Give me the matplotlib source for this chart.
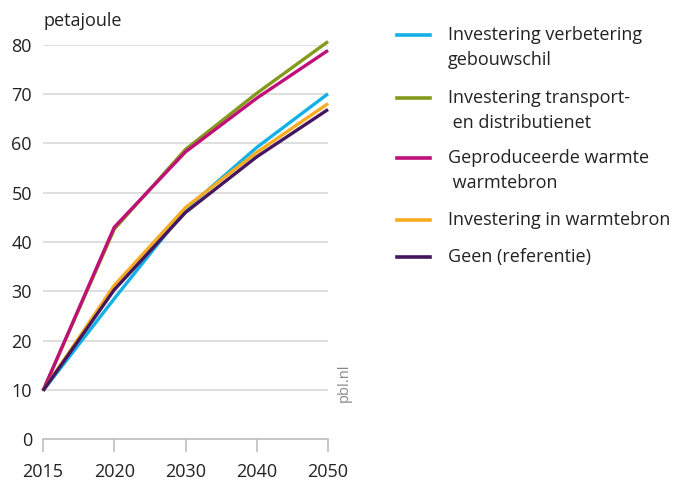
import matplotlib.pyplot as plt
from matplotlib.lines import Line2D

plt.rcParams['font.family'] = ['Open Sans', 'DejaVu Sans']

years = ['2015', '2020', '2030', '2040', '2050']
series_names = [
    'Investering verbetering\ngebouwschil',
    'Investering transport-\n en distributienet',
    'Geproduceerde warmte\n warmtebron',
    'Investering in warmtebron',
    'Geen (referentie)',
]
gebouwschil = [9.8, 28.5, 46.6, 59.2, 70.1]
transportnet = [9.8, 42.6, 58.8, 70.2, 80.7]
warmte_bron = [9.8, 43.0, 58.3, 69.2, 78.9]
inv_warmtebron = [9.8, 31.2, 47.0, 58.2, 68.1]
referentie = [9.8, 30.3, 46.0, 57.3, 66.9]
values = [gebouwschil, transportnet, warmte_bron, inv_warmtebron, referentie]
colors = ['#12b0e8', '#849a1c', '#c10f7a', '#f8ad21', '#45165f']

fig = plt.figure(figsize=(6.76, 4.82), dpi=100)
ax = fig.add_axes([43 / 676, 1 - 439 / 482, 285 / 676, 394 / 482])

x = list(range(len(years)))
for vals, col in zip(values, colors):
    ax.plot(x, vals, color=col, lw=2.4, solid_capstyle='butt', zorder=3,
            clip_on=False)

ax.set_xlim(0, len(years) - 1)
ax.set_ylim(0, 80)
ax.set_yticks(range(0, 81, 10))
ax.set_xticks(x)
ax.set_xticklabels(years)
ax.yaxis.grid(True, color='#d9d9d9', lw=1.2)
ax.set_axisbelow(True)
for s in ['left', 'right', 'top']:
    ax.spines[s].set_visible(False)
ax.spines['bottom'].set_color('#bfbfbf')
ax.spines['bottom'].set_linewidth(1.2)
ax.tick_params(axis='y', length=0, pad=8, labelsize=13, labelcolor='#222222')
ax.tick_params(axis='x', length=9, width=1.2, color='#bfbfbf', pad=8,
               labelsize=13, labelcolor='#222222')

fig.text(43 / 676, 1 - 21 / 482, 'petajoule', fontsize=13, color='#222222',
         ha='left', va='center')
fig.text(344 / 676, 1 - 383 / 482, 'pbl.nl', fontsize=10.5, color='#888888',
         rotation=90, ha='center', va='center')

# legend drawn by hand so the marker sits on the first text line
entry_y = [35, 98, 158, 220, 257]
for name, col, ey in zip(series_names, colors, entry_y):
    fy = 1 - ey / 482
    fig.add_artist(Line2D([397 / 676, 430 / 676], [fy, fy], color=col, lw=2.6,
                          transform=fig.transFigure))
    for i, line in enumerate(name.split('\n')):
        fig.text(448 / 676, 1 - (ey + 25 * i) / 482, line, fontsize=13,
                 color='#222222', ha='left', va='center')

fig.savefig('out.png', dpi=100)
